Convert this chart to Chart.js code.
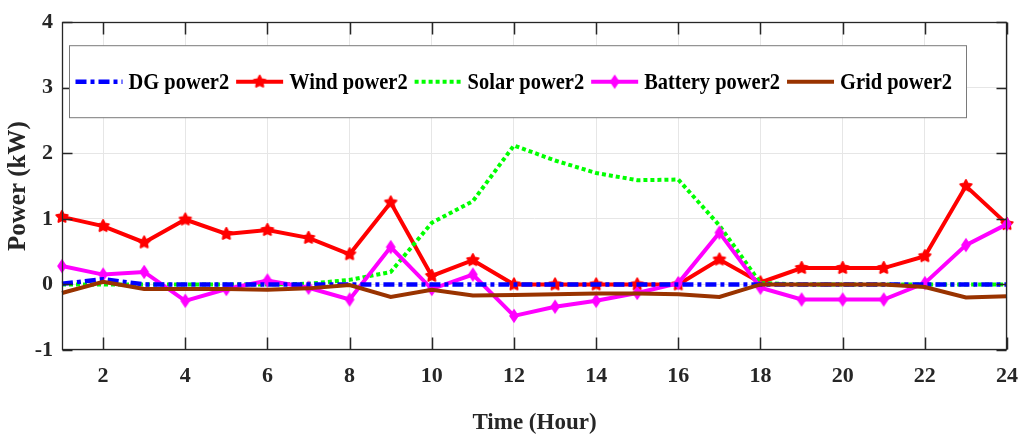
<!DOCTYPE html>
<html>
<head>
<meta charset="utf-8">
<script src="https://cdn.jsdelivr.net/npm/chart.js@4.4.1/dist/chart.umd.min.js"></script>
<style>
  html, body { margin: 0; padding: 0; background: #ffffff; }
  #wrap { width: 1031px; height: 437px; }
</style>
</head>
<body>
<div id="wrap"><canvas id="powerChart" width="1031" height="437"></canvas></div>
<script>
// Hourly power profile of each source (kW)
const hours = [1, 2, 3, 4, 5, 6, 7, 8, 9, 10, 11, 12, 13, 14, 15, 16, 17, 18, 19, 20, 21, 22, 23, 24];
const dgPower = [0.01, 0.08, 0, 0, 0, 0, 0, 0, 0, 0, 0, 0, 0, 0, 0, 0, 0, 0, 0, 0, 0, 0, 0, 0];
const windPower = [1.03, 0.89, 0.64, 0.99, 0.77, 0.83, 0.71, 0.46, 1.25, 0.13, 0.37, 0.0, 0.0, 0.0, 0.0, 0.0, 0.38, 0.03, 0.25, 0.25, 0.25, 0.43, 1.5, 0.92];
const solarPower = [0, 0, 0, 0, 0, 0, 0.01, 0.07, 0.19, 0.94, 1.27, 2.12, 1.89, 1.7, 1.59, 1.6, 0.9, 0.02, 0, 0, 0, 0, 0, 0];
const batteryPower = [0.28, 0.15, 0.19, -0.25, -0.07, 0.06, -0.05, -0.23, 0.57, -0.07, 0.15, -0.48, -0.34, -0.25, -0.13, 0.02, 0.79, -0.05, -0.23, -0.23, -0.23, 0.02, 0.6, 0.92];
const gridPower = [-0.13, 0.04, -0.07, -0.07, -0.07, -0.08, -0.06, -0.01, -0.19, -0.08, -0.17, -0.16, -0.15, -0.14, -0.14, -0.15, -0.19, 0, 0, 0, 0, -0.04, -0.2, -0.18];

// Axis tick values
const xTickValues = [2, 4, 6, 8, 10, 12, 14, 16, 18, 20, 22, 24];
const yTickValues = [-1, 0, 1, 2, 3, 4];

const SERIF = "'Liberation Serif', 'Times New Roman', serif";
const AXIS_COLOR = '#262626';

function toPoints(values) {
  return hours.map((h, i) => ({ x: h, y: values[i] }));
}

// Filled five-point star marker
function starMarker(color, r) {
  const s = Math.ceil(r * 2 + 6);
  const c = document.createElement('canvas');
  c.width = s; c.height = s;
  const g = c.getContext('2d');
  g.fillStyle = color; g.strokeStyle = color; g.lineWidth = 2; g.lineJoin = 'round';
  g.beginPath();
  for (let i = 0; i < 10; i++) {
    const a = -Math.PI / 2 + i * Math.PI / 5;
    const rr = i % 2 ? r * 0.5 : r;
    g.lineTo(s / 2 + rr * Math.cos(a), s / 2 + rr * Math.sin(a));
  }
  g.closePath(); g.fill(); g.stroke();
  return c;
}

// Filled diamond marker
function diamondMarker(color, rx, ry) {
  const w = Math.ceil(rx * 2 + 4), h = Math.ceil(ry * 2 + 4);
  const c = document.createElement('canvas');
  c.width = w; c.height = h;
  const g = c.getContext('2d');
  g.fillStyle = color; g.strokeStyle = color; g.lineWidth = 1.5;
  g.beginPath();
  g.moveTo(w / 2, h / 2 - ry); g.lineTo(w / 2 + rx, h / 2);
  g.lineTo(w / 2, h / 2 + ry); g.lineTo(w / 2 - rx, h / 2);
  g.closePath(); g.fill(); g.stroke();
  return c;
}

const windStar = starMarker('#ff0000', 6);
const batteryDiamond = diamondMarker('#ff00ff', 4, 6);

// Legend drawn inside the plot area, in a single boxed row
const innerLegend = {
  id: 'innerLegend',
  afterDraw(chart) {
    const { ctx, chartArea } = chart;
    const left = chartArea.left + 7.5, top = chartArea.top + 23.5;
    const right = left + 897, bottom = top + 72;
    const cy = (top + bottom) / 2;
    const squeeze = 0.89;
    ctx.save();
    ctx.fillStyle = '#ffffff';
    ctx.fillRect(left, top, right - left, bottom - top);
    ctx.strokeStyle = '#7a7a7a';
    ctx.lineWidth = 1;
    ctx.strokeRect(left, top, right - left, bottom - top);
    ctx.font = 'bold 23px ' + SERIF;
    ctx.textBaseline = 'middle';
    ctx.textAlign = 'left';
    const entries = chart.data.datasets.slice().sort((a, b) => a.legendIndex - b.legendIndex);
    let x = left + 6;
    entries.forEach(ds => {
      const sampleLen = 47;
      ctx.save();
      ctx.strokeStyle = ds.borderColor;
      ctx.lineWidth = ds.borderWidth;
      ctx.setLineDash(ds.borderDash || []);
      ctx.lineCap = 'butt';
      ctx.beginPath();
      ctx.moveTo(x, cy); ctx.lineTo(x + sampleLen, cy);
      ctx.stroke();
      ctx.restore();
      if (ds.pointStyle instanceof HTMLCanvasElement && ds.legendMarker) {
        const m = ds.pointStyle;
        ctx.drawImage(m, x + sampleLen / 2 - m.width / 2, cy - m.height / 2);
      }
      x += sampleLen + 6;
      ctx.save();
      ctx.translate(x, cy + 1);
      ctx.scale(squeeze, 1);
      ctx.fillStyle = '#000000';
      ctx.fillText(ds.label, 0, 0);
      ctx.restore();
      x += ctx.measureText(ds.label).width * squeeze + 7;
    });
    ctx.restore();
  }
};

// Axes box with inward tick marks
const axesBox = {
  id: 'axesBox',
  afterDraw(chart) {
    const { ctx, chartArea, scales } = chart;
    const l = Math.round(chartArea.left) + 0.5, r = Math.round(chartArea.right) - 0.5;
    const t = Math.round(chartArea.top) + 0.5, b = Math.round(chartArea.bottom) - 0.5;
    ctx.save();
    ctx.strokeStyle = AXIS_COLOR;
    ctx.lineWidth = 1.3;
    ctx.strokeRect(l, t, r - l, b - t);
    ctx.lineWidth = 1.5;
    ctx.beginPath();
    xTickValues.forEach(v => {
      const px = Math.round(scales.x.getPixelForValue(v)) + 0.5;
      ctx.moveTo(px, b); ctx.lineTo(px, b - 12);
      ctx.moveTo(px, t); ctx.lineTo(px, t + 12);
    });
    yTickValues.forEach(v => {
      const py = Math.round(scales.y.getPixelForValue(v)) + 0.5;
      ctx.moveTo(l, py); ctx.lineTo(l + 10, py);
      ctx.moveTo(r, py); ctx.lineTo(r - 10, py);
    });
    ctx.stroke();
    ctx.restore();
  }
};

const lineBase = {
  tension: 0,
  fill: false,
  clip: false,
  pointRadius: 0,
  pointHoverRadius: 0
};

new Chart(document.getElementById('powerChart'), {
  type: 'line',
  data: {
    datasets: [
      Object.assign({}, lineBase, {
        label: 'DG power2', legendIndex: 0, order: 2,
        data: toPoints(dgPower),
        borderColor: '#0000ff', borderWidth: 4.5,
        borderDash: [11, 4, 4, 4]
      }),
      Object.assign({}, lineBase, {
        label: 'Wind power2', legendIndex: 1, order: 5, legendMarker: true,
        data: toPoints(windPower),
        borderColor: '#ff0000', borderWidth: 4,
        pointStyle: windStar, pointRadius: 6
      }),
      Object.assign({}, lineBase, {
        label: 'Solar power2', legendIndex: 2, order: 4,
        data: toPoints(solarPower),
        borderColor: '#00ff00', borderWidth: 4,
        borderDash: [4, 3]
      }),
      Object.assign({}, lineBase, {
        label: 'Battery power2', legendIndex: 3, order: 3, legendMarker: true,
        data: toPoints(batteryPower),
        borderColor: '#ff00ff', borderWidth: 4,
        pointStyle: batteryDiamond, pointRadius: 5
      }),
      Object.assign({}, lineBase, {
        label: 'Grid power2', legendIndex: 4, order: 1,
        data: toPoints(gridPower),
        borderColor: '#993300', borderWidth: 4
      })
    ]
  },
  options: {
    responsive: false,
    animation: false,
    devicePixelRatio: 1,
    layout: { padding: { top: 15, right: 14, left: 0, bottom: 0 } },
    plugins: {
      legend: { display: false },
      tooltip: { enabled: false }
    },
    scales: {
      x: {
        type: 'linear',
        min: 1, max: 24,
        afterBuildTicks: s => { s.ticks = xTickValues.map(v => ({ value: v })); },
        afterFit: s => { s.height = 87; },
        grid: { color: '#e6e6e6', lineWidth: 1, drawTicks: false },
        border: { display: false },
        ticks: {
          padding: 13,
          color: AXIS_COLOR,
          font: { family: SERIF, size: 22, weight: 'bold' },
          maxRotation: 0
        },
        title: {
          display: true,
          text: 'Time (Hour)',
          color: AXIS_COLOR,
          font: { family: SERIF, size: 23, weight: 'bold' },
          padding: { top: 0, bottom: 0 }
        }
      },
      y: {
        type: 'linear',
        min: -1, max: 4,
        afterBuildTicks: s => { s.ticks = yTickValues.map(v => ({ value: v })); },
        afterFit: s => { s.width = 62; },
        grid: { color: '#e6e6e6', lineWidth: 1, drawTicks: false },
        border: { display: false },
        ticks: {
          padding: 9,
          color: AXIS_COLOR,
          font: { family: SERIF, size: 22, weight: 'bold' }
        },
        title: {
          display: true,
          text: 'Power (kW)',
          color: AXIS_COLOR,
          font: { family: SERIF, size: 25, weight: 'bold' },
          padding: { top: 4, bottom: 0 }
        }
      }
    }
  },
  plugins: [axesBox, innerLegend]
});
</script>
</body>
</html>
